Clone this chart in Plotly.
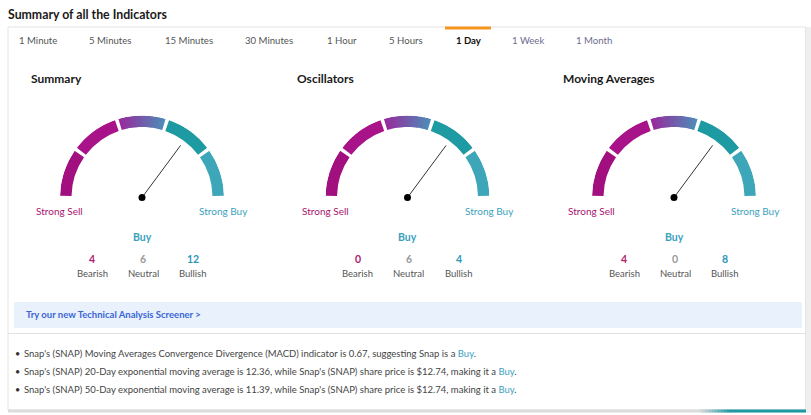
import plotly.graph_objects as go

W, H = 811, 415

# ---------------- data ----------------
tabs = ["1 Minute", "5 Minutes", "15 Minutes", "30 Minutes", "1 Hour",
        "5 Hours", "1 Day", "1 Week", "1 Month"]
active_tab = "1 Day"
gauge_titles = ["Summary", "Oscillators", "Moving Averages"]
gauge_verdicts = ["Buy", "Buy", "Buy"]
bearish = [4, 0, 4]
neutral = [6, 6, 0]
bullish = [12, 4, 8]
needle_score = [0.703, 0.703, 0.703]   # 0 = Strong Sell ... 1 = Strong Buy
band_labels = ["Strong Sell", "Sell", "Neutral", "Buy", "Strong Buy"]
bullet_texts = [
    ("Snap's (SNAP) Moving Averages Convergence Divergence (MACD) indicator is 0.67, suggesting Snap is a ", "Buy"),
    ("Snap's (SNAP) 20-Day exponential moving average is 12.36, while Snap's (SNAP) share price is $12.74, making it a ", "Buy"),
    ("Snap's (SNAP) 50-Day exponential moving average is 11.39, while Snap's (SNAP) share price is $12.74, making it a ", "Buy"),
]

# ---------------- style ----------------
FONT = "Lato"
MAGENTA = "#A8146F"
TEAL = "#3AA1BE"
band_colors = ["#A20F7E", "#A8138A", None, "#1E9AA3", "#3DA6B9"]
grad_start, grad_end = (0x98, 0x2A, 0x9C), (0x4E, 0x8C, 0xB8)
PAD = 2  # annotation internal padding

def px(x):
    return x / W

def py(y):
    return 1 - y / H

fig = go.Figure()
shapes = []
ann = []

def rect(x0, y0, x1, y1, fill, line=None, lw=0):
    shapes.append(dict(type="rect", xref="paper", yref="paper",
                       x0=px(x0), x1=px(x1), y0=py(y1), y1=py(y0),
                       fillcolor=fill, line=dict(color=line or fill, width=lw),
                       layer="below"))

def text(x, y, s, size, color, xanchor="left", bold=False):
    if xanchor == "left":
        x -= PAD
    elif xanchor == "right":
        x += PAD
    ann.append(dict(x=px(x), y=py(y), xref="paper", yref="paper", text=(f"<b>{s}</b>" if bold else s),
                    showarrow=False, xanchor=xanchor, yanchor="middle",
                    font=dict(family=FONT, size=size, color=color)))

# page chrome
rect(806, 27, 811, 413, "#efefef")
rect(8, 27, 805.5, 410, "#ffffff", "#e4e4e4", 1)
rect(8, 409.5, 806, 412.5, "#dcdcdc")
n = 10
for i in range(n):
    t = (i + 0.5) / n
    c = tuple(int(a + (b - a) * t) for a, b in zip((0xdc, 0xdc, 0xdc), (0x1F, 0x9A, 0xA5)))
    rect(700 + i * 3, 409.5, 700 + (i + 1) * 3 + 0.5, 412.5, "rgb(%d,%d,%d)" % c)
rect(730, 409.5, 806, 412.5, "#1F9AA5")
rect(445, 26.5, 491, 29.5, "#F5951E")
rect(14, 302, 802, 328, "#E8F1FC")
shapes.append(dict(type="line", xref="paper", yref="paper", x0=px(8), x1=px(805.5),
                   y0=py(333.5), y1=py(333.5), line=dict(color="#e2e2e2", width=1)))

# title
text(8, 14, "Summary of all the Indicators", 12.3, "#1a1a1a", bold=True)

# tabs
tab_x = [19, 89, 165, 245, 327, 389, 456, 512, 576]
for tx, lab in zip(tab_x, tabs):
    if lab == active_tab:
        text(tx, 41, lab, 9.6, "#111111", bold=True)
    elif lab in ("1 Week", "1 Month"):
        text(tx, 41, lab, 9.6, "#6f6c90")
    else:
        text(tx, 41, lab, 9.6, "#555555")

# gauges
centers = [142, 407.5, 674]
CY = 197.5
R = 82
inner = 0.86
seg = 180 / len(band_labels)
gap = 2.6

for gi, cx in enumerate(centers):
    pname = "polar" if gi == 0 else f"polar{gi + 1}"
    sub = pname
    for bi, lab in enumerate(band_labels):
        s = bi * seg + gap / 2
        e = (bi + 1) * seg - gap / 2
        if band_colors[bi] is not None:
            fig.add_trace(go.Barpolar(r=[1 - inner], base=[inner], theta=[(s + e) / 2], width=[e - s],
                                      marker=dict(color=band_colors[bi], line=dict(width=0)),
                                      subplot=sub, showlegend=False, hoverinfo="skip", name=lab))
        else:
            m = 14
            w = (e - s) / m
            for k in range(m):
                a0 = s + k * w
                a1 = min(s + (k + 1) * w + 0.6, e)
                t = (k + 0.5) / m
                c = tuple(int(a + (b - a) * t) for a, b in zip(grad_start, grad_end))
                fig.add_trace(go.Barpolar(r=[1 - inner], base=[inner], theta=[(a0 + a1) / 2], width=[a1 - a0],
                                          marker=dict(color="rgb(%d,%d,%d)" % c, line=dict(width=0)),
                                          subplot=sub, showlegend=False, hoverinfo="skip", name=lab))
    ang = needle_score[gi] * 180
    fig.add_trace(go.Scatterpolar(r=[0, 0.79], theta=[ang, ang], mode="lines",
                                  line=dict(color="#333333", width=1), subplot=sub,
                                  showlegend=False, hoverinfo="skip", cliponaxis=False))
    fig.add_trace(go.Scatterpolar(r=[0], theta=[0], mode="markers",
                                  marker=dict(color="#000000", size=7), subplot=sub,
                                  showlegend=False, hoverinfo="skip", cliponaxis=False))
    fig.update_layout(**{pname: dict(
        domain=dict(x=[px(cx - R), px(cx + R)], y=[py(CY), py(CY - R)]),
        sector=[0, 180], bgcolor="rgba(0,0,0,0)",
        radialaxis=dict(range=[0, 1], visible=False, showgrid=False),
        angularaxis=dict(rotation=180, direction="clockwise", visible=False, showgrid=False,
                         thetaunit="degrees"),
    )})

    text(cx - 111, 78, gauge_titles[gi], 12, "#1a1a1a", bold=True)
    text(cx - 106, 211, "Strong Sell", 10, MAGENTA)
    text(cx + 106, 211, "Strong Buy", 10, TEAL, xanchor="right")
    text(cx, 237, gauge_verdicts[gi], 10.5, TEAL, xanchor="center", bold=True)
    for off, val, lab, col in [(-50, bearish[gi], "Bearish", "#B0206F"),
                               (1, neutral[gi], "Neutral", "#9a9a9a"),
                               (51, bullish[gi], "Bullish", "#2B97B6")]:
        text(cx + off, 259, str(val), 10.5, col, xanchor="center", bold=True)
        text(cx + off, 273, lab, 9.5, "#555555", xanchor="center")

text(26, 314.5, "Try our new Technical Analysis Screener &gt;", 9.5, "#3B67D6", bold=True)

for i, (t0, t1) in enumerate(bullet_texts):
    y = 353 + 18 * i
    text(15, y, "•", 9, "#333333")
    text(24, y, t0 + f"<span style='color:{TEAL}'>{t1}</span>.", 9.5, "#444444")

fig.update_layout(width=W, height=H, margin=dict(l=0, r=0, t=0, b=0),
                  paper_bgcolor="#ffffff", plot_bgcolor="#ffffff",
                  shapes=shapes, annotations=ann, showlegend=False,
                  barmode="overlay")
fig.write_html("out.html")
